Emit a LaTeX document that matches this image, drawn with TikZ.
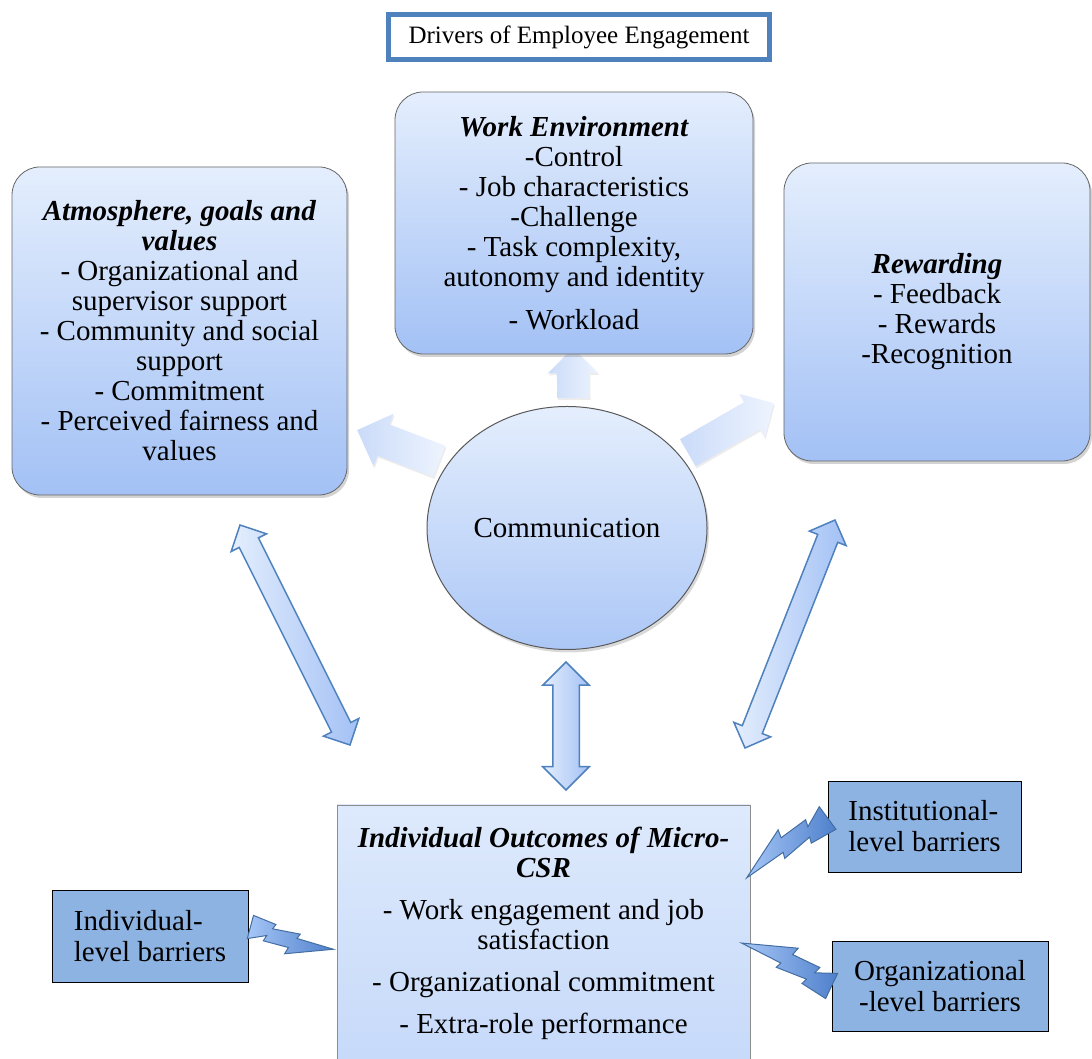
\documentclass[tikz,border=0pt]{standalone}
\usepackage{fontspec}
\setmainfont{Liberation Serif}
\usepackage{tikz}
\usetikzlibrary{arrows.meta,positioning,calc,shapes.arrows,shapes.geometric,shadows}
\pgfdeclarelayer{bg}
\pgfsetlayers{bg,main}
\definecolor{hblue}{HTML}{4F81BD}
\definecolor{htop}{HTML}{E4EEFD}
\definecolor{hbot}{HTML}{A3C1F5}
\definecolor{hbar}{HTML}{8DB3E2}
\definecolor{hpale}{HTML}{EEF4FE}
\definecolor{hpaled}{HTML}{CADBF9}
\definecolor{hboltl}{HTML}{A6C6F6}
\definecolor{hboltd}{HTML}{4F80CC}
\tikzset{
  driver/.style={rectangle, rounded corners=28pt, draw=black!60, line width=0.8pt,
                 top color=htop, bottom color=hbot, align=center,
                 font=\fontsize{29}{30}\selectfont,
                 drop shadow={opacity=0.35, shadow xshift=2pt, shadow yshift=-3pt}},
  hub/.style={ellipse, draw=black!65, line width=1pt, top color=htop, bottom color=hbot!90,
              font=\fontsize{29}{30}\selectfont, inner sep=0pt,
              drop shadow={opacity=0.3, shadow xshift=2pt, shadow yshift=-3pt}},
  outbox/.style={rectangle, draw=black!45, line width=0.8pt, top color=htop!90!hbot,
                 bottom color=htop!55!hbot, align=center, font=\fontsize{29}{30}\selectfont},
  barrier/.style={rectangle, draw=black, line width=0.8pt, fill=hbar,
                  font=\fontsize{29}{31}\selectfont},
  titlebox/.style={rectangle, draw=hblue, line width=5pt, fill=white,
                   font=\fontsize{25}{28}\selectfont, minimum width=381pt, minimum height=45pt},
  dblarr/.style={double arrow, draw=hblue, line width=1.5pt, inner xsep=0pt, inner ysep=10pt,
                 left color=htop, right color=hbot, double arrow head extend=9pt},
  outarr/.style={single arrow, draw=none, inner xsep=0pt, left color=hpaled, right color=hpale,
                 drop shadow={opacity=0.15, shadow xshift=1pt, shadow yshift=-2pt}},
  boltline/.style={left color=hboltl, right color=hboltd, draw=hblue!85!black, line width=1pt},
  pics/bolt/.style={code={
    \shade[boltline] (0,12) -- (24,9) -- (22,4) -- (50,6) -- (48,1) -- (86,0)
      -- (40,-17) -- (42,-10) -- (16,-10) -- (18,-4) -- (0,-12) -- cycle;}},
}

\begin{document}
\begin{tikzpicture}[x=1pt,y=1pt]
  \useasboundingbox (0,0) rectangle (1092,1059);
  \node[titlebox] (ttl) at (579,1022) {Drivers of Employee Engagement};
  \node[driver, minimum width=335pt, minimum height=328pt] (atm) at (179.5,728)
    {\textbf{\textit{Atmosphere, goals and}}\\ \textbf{\textit{values}}\\ - Organizational and\\
     supervisor support\\ - Community and social\\ support\\ - Commitment\\
     - Perceived fairness and\\ values};
  \node[driver, minimum width=358pt, minimum height=262pt] (work) at (574,836)
    {\textbf{\textit{Work Environment}}\\ -Control\\ - Job characteristics\\ -Challenge\\
     - Task complexity,\\ autonomy and identity\\[13pt] - Workload};
  \node[driver, minimum width=306pt, minimum height=298pt] (rew) at (937,747)
    {\textbf{\textit{Rewarding}}\\ - Feedback\\ - Rewards\\ -Recognition};
  \node[hub, minimum width=280pt, minimum height=243pt] (comm) at (567,531) {Communication};
  \node[outbox, minimum width=413pt, minimum height=256pt] (outc) at (543.5,126)
    {\textbf{\textit{Individual Outcomes of Micro-}}\\ \textbf{\textit{CSR}}\\[12pt]
     - Work engagement and job\\ satisfaction\\[12pt] - Organizational commitment\\[12pt]
     - Extra-role performance};
  \node[barrier, minimum width=196pt, minimum height=92pt, align=left] (ind) at (150,123)
    {Individual-\\ level barriers};
  \node[barrier, minimum width=193pt, minimum height=91pt, align=left] (inst) at (924.5,232.5)
    {Institutional-\\ level barriers};
  \node[barrier, minimum width=216pt, minimum height=90pt, align=center] (org) at (940,73)
    {Organizational\\ -level barriers};

  % arrows from the hub
  \coordinate (wtip) at (573,703);
  \coordinate (atip) at (365,626);
  \coordinate (rtip) at (767,652);
  \begin{pgfonlayer}{bg}
    \path let \p1=($(wtip)-(comm.87)$), \n1={veclen(\x1,\y1)} in (comm.87) -- (wtip)
      node[midway, sloped, allow upside down, outarr, minimum height=\n1,
           inner ysep=16pt, single arrow head extend=9pt] {};
    \path let \p1=($(atip)-(comm.152)$), \n1={veclen(\x1,\y1)} in (comm.152) -- (atip)
      node[midway, sloped, allow upside down, outarr, minimum height=\n1,
           inner ysep=16.5pt, single arrow head extend=11.5pt] {};
    \path let \p1=($(rtip)-(comm.32)$), \n1={veclen(\x1,\y1)} in (comm.32) -- (rtip)
      node[midway, sloped, allow upside down, outarr, minimum height=\n1,
           inner ysep=15.5pt, single arrow head extend=9.5pt] {};
  \end{pgfonlayer}

  % two-way arrows
  \coordinate (la1) at (240,534); \coordinate (la2) at (350,314);
  \coordinate (ra1) at (835,539); \coordinate (ra2) at (745,311);
  \coordinate (ca1) at (566,397); \coordinate (ca2) at (566,269);
  \path let \p1=($(la2)-(la1)$), \n1={veclen(\x1,\y1)} in (la1) -- (la2)
    node[midway, sloped, allow upside down, dblarr, minimum height=\n1] {};
  \path let \p1=($(ra2)-(ra1)$), \n1={veclen(\x1,\y1)} in (ra1) -- (ra2)
    node[midway, sloped, allow upside down, dblarr, minimum height=\n1] {};
  \path let \p1=($(ca2)-(ca1)$), \n1={veclen(\x1,\y1)} in (ca1) -- (ca2)
    node[midway, sloped, allow upside down, dblarr, minimum height=\n1,
         inner ysep=12.5pt, double arrow head extend=10pt] {};

  % barriers
  \pic[rotate=-15] at ($(ind.east)+(2,9)$) {bolt};
  \pic[rotate=216.5, scale=1.17] at ($(inst.west)+(0,8.5)$) {bolt};
  \pic[rotate=154.5, scale=1.16] at (org.west) {bolt};
\end{tikzpicture}
\end{document}
